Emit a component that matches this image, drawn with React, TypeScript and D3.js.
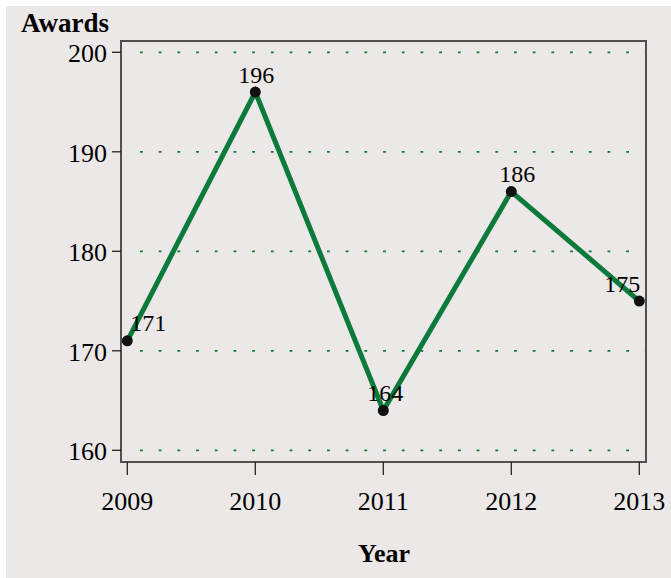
import * as d3 from 'd3';
import React, {useEffect, useRef} from 'react';

const years = [2009, 2010, 2011, 2012, 2013];
const awards = [171, 196, 164, 186, 175];
const yTicks = [160, 170, 180, 190, 200];
// horizontal nudge of each value label so it clears the line
const labelDx = [21, 1, 2, 6, -17];

const App: React.FC = () => {
  const ref = useRef<SVGSVGElement>(null);

  useEffect(() => {
    const svg = d3.select(ref.current);
    svg.selectAll('*').remove();
    const W = 671, H = 578;
    const frame = {left: 121, top: 41, right: 646, bottom: 462};
    const font = 'Liberation Serif, Times New Roman, serif';

    svg.append('rect').attr('x', 6).attr('y', 6).attr('width', W - 6).attr('height', H - 6)
      .attr('fill', '#ece8e7');

    const x = d3.scaleLinear().domain([2009, 2013]).range([127.3, 639.3]);
    const y = d3.scaleLinear().domain([160, 200]).range([450.3, 52.3]);

    // grid
    svg.append('g').selectAll('line').data(yTicks).enter().append('line')
      .attr('x1', frame.left + 19).attr('x2', frame.right)
      .attr('y1', d => y(d)).attr('y2', d => y(d))
      .attr('stroke', '#067d35').attr('stroke-width', 1.8)
      .attr('stroke-dasharray', '2.8,15.9');

    // frame
    svg.append('rect').attr('x', frame.left).attr('y', frame.top)
      .attr('width', frame.right - frame.left).attr('height', frame.bottom - frame.top)
      .attr('fill', 'none').attr('stroke', '#505050').attr('stroke-width', 2);

    // y axis
    const yg = svg.append('g');
    yg.selectAll('line').data(yTicks).enter().append('line')
      .attr('x1', frame.left - 9).attr('x2', frame.left)
      .attr('y1', d => y(d)).attr('y2', d => y(d))
      .attr('stroke', '#222').attr('stroke-width', 1.3);
    yg.selectAll('text').data(yTicks).enter().append('text')
      .attr('x', frame.left - 14).attr('y', d => y(d) + 10)
      .attr('text-anchor', 'end').attr('font-family', font).attr('font-size', 26)
      .attr('fill', '#000').text(d => d);

    // x axis
    const xg = svg.append('g');
    xg.selectAll('line').data(years).enter().append('line')
      .attr('x1', d => x(d)).attr('x2', d => x(d))
      .attr('y1', frame.bottom).attr('y2', frame.bottom + 13)
      .attr('stroke', '#222').attr('stroke-width', 1.3);
    xg.selectAll('text').data(years).enter().append('text')
      .attr('x', d => x(d)).attr('y', 510)
      .attr('text-anchor', 'middle').attr('font-family', font).attr('font-size', 26)
      .attr('fill', '#000').text(d => d);

    // titles
    svg.append('text').attr('x', 21).attr('y', 32).attr('font-family', font)
      .attr('font-size', 27).attr('font-weight', 'bold').attr('fill', '#000').text('Awards');
    svg.append('text').attr('x', 384).attr('y', 562).attr('text-anchor', 'middle')
      .attr('font-family', font).attr('font-size', 26).attr('font-weight', 'bold')
      .attr('fill', '#000').text('Year');

    const pts = years.map((yr, i) => ({yr, v: awards[i], dx: labelDx[i]}));

    const line = d3.line<{yr: number, v: number}>().x(d => x(d.yr)).y(d => y(d.v));
    svg.append('path').datum(pts).attr('d', line).attr('fill', 'none')
      .attr('stroke', '#0b7a3b').attr('stroke-width', 5).attr('stroke-linejoin', 'miter');

    svg.append('g').selectAll('circle').data(pts).enter().append('circle')
      .attr('cx', d => x(d.yr)).attr('cy', d => y(d.v)).attr('r', 5.5)
      .attr('fill', '#111');

    svg.append('g').selectAll('text').data(pts).enter().append('text')
      .attr('x', d => x(d.yr) + d.dx).attr('y', d => y(d.v) - 9.5)
      .attr('text-anchor', 'middle').attr('font-family', font).attr('font-size', 24)
      .attr('fill', '#000').text(d => d.v);
  }, []);

  return (
    <svg ref={ref} width={671} height={578}
      style={{position: 'absolute', left: 0, top: 0, display: 'block'}}/>
  );
};

export default App;
